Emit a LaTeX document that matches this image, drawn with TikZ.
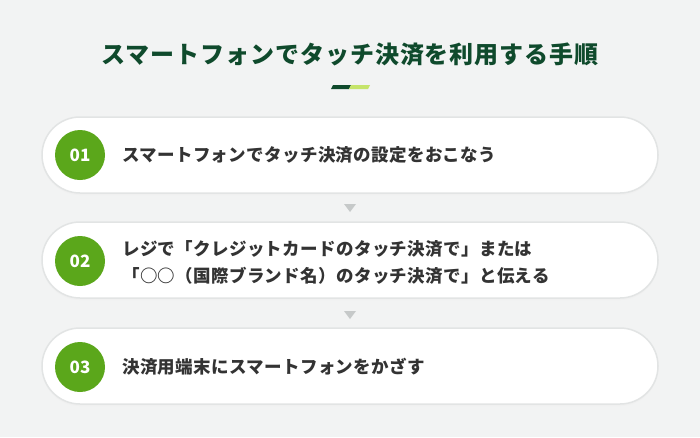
\documentclass[tikz,border=0pt]{standalone}
\usepackage{fontspec}
\setmainfont{Noto Sans CJK JP}
\newfontfamily\cjkbody{Noto Sans CJK JP}[LetterSpace=2]
\newfontfamily\cjktitle{Noto Sans CJK JP}[LetterSpace=4]
\definecolor{bgc}{HTML}{F2F3F3}
\definecolor{boxline}{HTML}{E2E4E4}
\definecolor{greenc}{HTML}{5BA71B}
\definecolor{titlec}{HTML}{0F4A2C}
\definecolor{lightg}{HTML}{C5E46A}
\definecolor{textc}{HTML}{333333}
\definecolor{arrowc}{HTML}{C6C9C9}
\begin{document}
\begin{tikzpicture}[x=1pt,y=-1pt,
  stepbox/.style={draw=boxline,line width=1.5pt,fill=white,rounded corners=38pt},
  numc/.style={circle,fill=greenc,minimum size=50pt,inner sep=0pt,text=white,font=\fontsize{17}{19}\selectfont\bfseries},
  steptext/.style={anchor=west,text=textc,font=\fontsize{17.5}{27}\selectfont\cjkbody\bfseries,align=left,inner sep=0pt},
  tri/.style={fill=arrowc}]
\fill[bgc] (0,0) rectangle (700,437);
\useasboundingbox (0,0) rectangle (700,437);
\node[text=titlec,font=\fontsize{24}{28}\selectfont\cjktitle\bfseries] (title) at (350,54) {スマートフォンでタッチ決済を利用する手順};
\fill[titlec] (331,89) -- (333,85) -- (351,85) -- (349,89) -- cycle;
\fill[lightg] (349,89) -- (351,85) -- (370,85) -- (368,89) -- cycle;
% boxes
\foreach \y/\n in {117/1,222/2,328/3}{
  \fill[black!6,rounded corners=38pt] (42,\y+2) rectangle (658,\y+78);
  \draw[stepbox] (42,\y) rectangle (658,\y+76);
}
\node[numc] (c1) at (80,155) {01};
\node[numc] (c2) at (80,261) {02};
\node[numc] (c3) at (80,367) {03};
\node[steptext] (t1) at (122,155) {スマートフォンでタッチ決済の設定をおこなう};
\node[steptext] (t2) at (122,262) {レジで「クレジットカードのタッチ決済で」または\\「○○（国際ブランド名）のタッチ決済で」と伝える};
\node[steptext] (t3) at (122,367) {決済用端末にスマートフォンをかざす};
\fill[tri] (344,204) -- (356,204) -- (350,212) -- cycle;
\fill[tri] (344,311) -- (356,311) -- (350,319) -- cycle;
\end{tikzpicture}
\end{document}
